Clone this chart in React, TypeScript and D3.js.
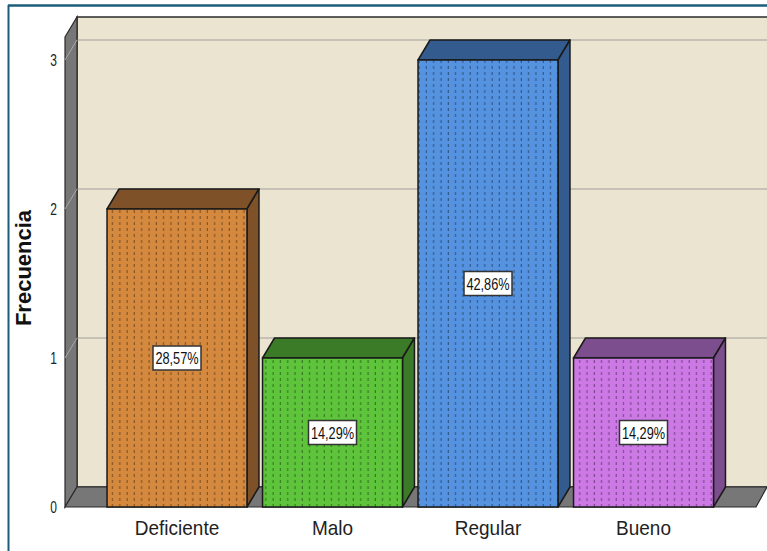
import React from "react";
import * as d3 from "d3";

const categories = ["Deficiente", "Malo", "Regular", "Bueno"];
const frequencies = [2, 1, 3, 1];
const percentLabels = ["28,57%", "14,29%", "42,86%", "14,29%"];
const yTicks = [0, 1, 2, 3];
const frontColors = ["#d4893f", "#5ec43b", "#5592e0", "#cc79e6"];
const sideColors = ["#7e5128", "#3b7a27", "#335b8d", "#7d4e8d"];

const W = 767;
const H = 551;
const DX = 12;
const DY = -20;

export default function App() {
  const y = d3.scaleLinear().domain([0, 3]).range([507, 60]);
  const x = d3
    .scaleBand<string>()
    .domain(categories)
    .range([99.25, 721.25])
    .paddingInner(0.1)
    .paddingOuter(0.05);

  const y0 = y(0);
  const wallLeft = 65;
  const wallTopFront = 37;
  const backRight = 767;
  const floorFrontRight = 756;

  return (
    <svg
      width={W}
      height={H}
      style={{ position: "absolute", left: 0, top: 0, background: "#fff" }}
      fontFamily="'Liberation Sans', Arial, sans-serif"
    >
      <defs>
        <pattern id="dash" width={7.3} height={6} patternUnits="userSpaceOnUse">
          <line x1={3} y1={0} x2={3} y2={3} stroke="rgba(0,0,0,0.45)" strokeWidth={1} />
        </pattern>
      </defs>

      {/* frame */}
      <line x1={8.5} y1={5} x2={8.5} y2={H} stroke="#1b5e7b" strokeWidth={2} />
      <line x1={8} y1={5.5} x2={W} y2={5.5} stroke="#1b5e7b" strokeWidth={2.5} />

      {/* back wall */}
      <rect
        x={wallLeft + DX}
        y={wallTopFront + DY}
        width={backRight - wallLeft - DX + 2}
        height={y0 + DY - (wallTopFront + DY)}
        fill="#ebe4d0"
        stroke="#2b2b2b"
        strokeWidth={1.5}
      />
      {/* gridlines on back wall */}
      {yTicks.slice(1).map((t) => (
        <line
          key={"g" + t}
          x1={wallLeft + DX}
          x2={backRight}
          y1={y(t) + DY}
          y2={y(t) + DY}
          stroke="#b9b6ad"
          strokeWidth={1.5}
        />
      ))}
      {/* left side wall */}
      <polygon
        points={`${wallLeft},${wallTopFront} ${wallLeft + DX},${wallTopFront + DY} ${wallLeft + DX},${y0 + DY} ${wallLeft},${y0}`}
        fill="#777777"
        stroke="#2b2b2b"
        strokeWidth={1.2}
      />
      {yTicks.slice(1).map((t) => (
        <line
          key={"s" + t}
          x1={wallLeft}
          y1={y(t)}
          x2={wallLeft + DX}
          y2={y(t) + DY}
          stroke="#a9a9a9"
          strokeWidth={1}
        />
      ))}
      {/* floor */}
      <polygon
        points={`${wallLeft},${y0} ${wallLeft + DX},${y0 + DY} ${backRight},${y0 + DY} ${floorFrontRight},${y0}`}
        fill="#777777"
        stroke="#2b2b2b"
        strokeWidth={1.2}
      />

      {/* tick labels */}
      {yTicks.map((t) => (
        <text
          key={"t" + t}
          transform={`translate(57,${y(t) + 6}) scale(0.75,1)`}
          textAnchor="end"
          fontSize={16}
          fill="#222"
        >
          {t}
        </text>
      ))}

      {/* axis title */}
      <text
        transform={`translate(31,268) rotate(-90)`}
        textAnchor="middle"
        fontSize={22}
        fontWeight="bold"
        fill="#111"
      >
        Frecuencia
      </text>

      {/* bars */}
      {categories.map((c, i) => {
        const bx = x(c) as number;
        const bw = x.bandwidth();
        const top = y(frequencies[i]);
        return (
          <g key={c}>
            <polygon
              points={`${bx},${top} ${bx + DX},${top + DY} ${bx + bw + DX},${top + DY} ${bx + bw},${top}`}
              fill={sideColors[i]}
              stroke="#1a1a1a"
              strokeWidth={1.5}
              strokeLinejoin="round"
            />
            <polygon
              points={`${bx + bw},${top} ${bx + bw + DX},${top + DY} ${bx + bw + DX},${y0 + DY} ${bx + bw},${y0}`}
              fill={sideColors[i]}
              stroke="#1a1a1a"
              strokeWidth={1.5}
              strokeLinejoin="round"
            />
            <rect x={bx} y={top} width={bw} height={y0 - top} fill={frontColors[i]} />
            <rect x={bx} y={top} width={bw} height={y0 - top} fill="url(#dash)" />
            <rect
              x={bx}
              y={top}
              width={bw}
              height={y0 - top}
              fill="none"
              stroke="#1a1a1a"
              strokeWidth={1.5}
            />
            <rect
              x={bx + bw / 2 - 24}
              y={(top + y0) / 2 - 12}
              width={48}
              height={24}
              fill="#fff"
              stroke="#333"
              strokeWidth={1.5}
            />
            <text
              transform={`translate(${bx + bw / 2},${(top + y0) / 2 + 6}) scale(0.75,1)`}
              textAnchor="middle"
              fontSize={17}
              fill="#111"
            >
              {percentLabels[i]}
            </text>
            <text
              transform={`translate(${bx + bw / 2},${535}) scale(0.95,1)`}
              textAnchor="middle"
              fontSize={20}
              fill="#222"
            >
              {c}
            </text>
          </g>
        );
      })}
    </svg>
  );
}
